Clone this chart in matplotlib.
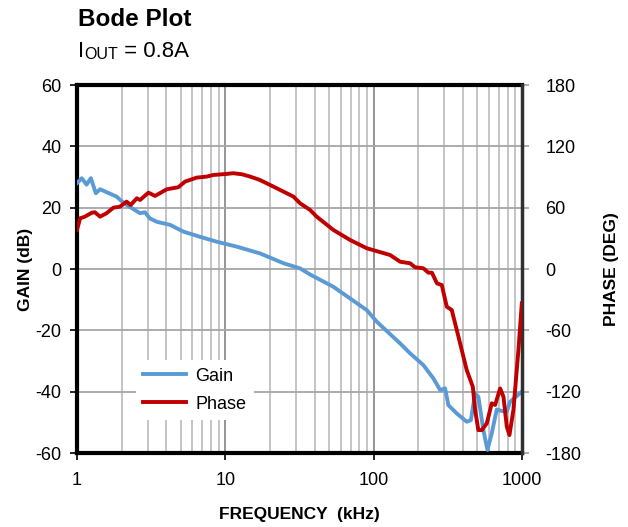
import matplotlib
matplotlib.use("Agg")
import matplotlib.pyplot as plt
from matplotlib.ticker import LogLocator, NullFormatter, FixedLocator

# ---- data ----
gain_freq = [1.0, 1.076, 1.16, 1.24, 1.34, 1.43, 1.85, 1.98, 2.16, 2.66, 2.87, 3.10, 3.45,
             4.24, 5.21, 6.75, 8.75, 11.9, 17.1, 24.6, 31.9, 37.3, 53.5, 89.8, 105, 151,
             176, 216, 253, 281, 303, 319, 363, 424, 452, 483, 508, 549, 585, 625, 676,
             731, 790, 831, 997]
gain_db = [28, 29.6, 27.5, 29.6, 24.7, 26, 23.6, 22.3, 20.9, 18.2, 18.5, 16.5, 15.4,
           14.4, 12.2, 10.5, 8.9, 7.3, 5.1, 1.9, 0.2, -1.8, -5.8, -13.4, -17.2, -24.3,
           -27.5, -31.3, -35.7, -39.5, -38.9, -44.4, -47.1, -49.8, -49.3, -40.6, -41.7,
           -52.5, -59, -53.6, -45.8, -46.3, -46.5, -43.3, -40]

phase_freq = [1.0, 1.05, 1.13, 1.26, 1.32, 1.43, 1.58, 1.76, 1.95, 2.16, 2.30, 2.53, 2.66,
              3.03, 3.36, 4.03, 4.82, 5.35, 6.41, 7.49, 8.30, 10.2, 11.3, 12.9, 14.7, 17.1,
              22.2, 28.8, 31.9, 37.3, 41.3, 53.5, 69.3, 89.8, 129, 151, 176, 190, 216, 234,
              247, 267, 288, 311, 336, 373, 424, 466, 483, 508, 536, 579, 625, 659, 712,
              750, 790, 823, 875, 946, 997]
phase_deg = [38.2, 49.6, 51.2, 55.1, 55.5, 51.2, 54.5, 60, 61, 65.9, 62.6, 69.2, 67.5,
             74.7, 71.5, 78, 80, 85.5, 89.4, 90.4, 92, 93, 93.7, 92.7, 90.4, 87.1,
             79, 70.8, 64.3, 57.7, 51.2, 38.2, 28.4, 20.3, 13.7, 7.1, 5.6, 1.7, 0.7, -3.6,
             -3.6, -14, -15.7, -36.9, -40.1, -66.3, -98.9, -115.2, -138, -157.6, -157.6,
             -151, -131.4, -133, -116.8, -125, -154.3, -162.5, -138, -79.3, -33.6]

gain_ticks = [-60, -40, -20, 0, 20, 40, 60]
phase_ticks = [-180, -120, -60, 0, 60, 120, 180]
x_ticks = [1, 10, 100, 1000]
x_tick_labels = ["1", "10", "100", "1000"]

# ---- figure ----
plt.rcParams['font.family'] = ['Liberation Sans', 'DejaVu Sans']
plt.rcParams['axes.unicode_minus'] = False
fig = plt.figure(figsize=(6.28, 5.27), dpi=100)
ax = fig.add_axes([77/628, 1-453/527, (522-77)/628, (453-85)/527])
ax2 = ax.twinx()

l1, = ax.plot(gain_freq, gain_db, color='#5B9BD5', lw=2.8, label='Gain', zorder=3)
l2, = ax2.plot(phase_freq, phase_deg, color='#C00000', lw=2.8, label='Phase', zorder=3)

ax.set_xscale('log')
ax.set_xlim(1, 1000)
ax.set_ylim(-60, 60)
ax2.set_ylim(-180, 180)
ax.set_yticks(gain_ticks)
ax2.set_yticks(phase_ticks)
ax.xaxis.set_major_locator(FixedLocator(x_ticks))
ax.set_xticklabels(x_tick_labels)
ax.xaxis.set_minor_locator(LogLocator(base=10, subs=range(2, 10)))
ax.xaxis.set_minor_formatter(NullFormatter())

ax.grid(True, which='major', axis='x', color='#8C8C8C', lw=1.3)
ax.grid(True, which='minor', axis='x', color='#BFBFBF', lw=1.3)
ax.grid(True, which='major', axis='y', color='#A6A6A6', lw=1.3)
ax.set_axisbelow(True)

ax.tick_params(axis='y', which='major', direction='out', length=5, width=1.2,
               labelsize=13, pad=6, color='black')
ax.tick_params(axis='x', which='major', direction='out', length=5, width=1.2,
               labelsize=13, pad=9, color='black')
ax.tick_params(axis='x', which='minor', length=0)
ax2.tick_params(axis='y', direction='out', length=5, width=1.2, labelsize=13,
                pad=12, color='#A0A0A0')

for s in ['left', 'bottom', 'top']:
    ax.spines[s].set_linewidth(3)
    ax.spines[s].set_color('black')
ax.spines['right'].set_visible(False)
for s in ['left', 'bottom', 'top']:
    ax2.spines[s].set_visible(False)
ax2.spines['right'].set_linewidth(2.5)
ax2.spines['right'].set_color('#303030')

lab_font = dict(family=['Liberation Sans Narrow', 'Liberation Sans'], fontweight='bold', fontsize=12.5)
ax.set_xlabel('FREQUENCY  (kHz)', labelpad=13, **lab_font)
ax.set_ylabel('GAIN (dB)', labelpad=2, **lab_font)
ax2.set_ylabel('PHASE (DEG)', labelpad=16, rotation=90, **lab_font)

leg = ax2.legend(handles=[l1, l2], loc='upper left', bbox_to_anchor=(0.112, 0.276),
                 frameon=True, fontsize=13, handlelength=2.4, borderpad=0.4,
                 labelspacing=0.6, handletextpad=0.5, fancybox=False)
leg.get_frame().set_facecolor('white')
leg.get_frame().set_edgecolor('none')
leg.get_frame().set_alpha(1)

fig.text(78/628, 1-19/527, 'Bode Plot', fontsize=17.5, fontweight='bold', va='center', ha='left')
t1 = fig.text(78/628, 1-57/527, 'I', fontsize=16, va='baseline', ha='left')
t2 = ax.annotate('OUT', xy=(1.0, 0.0), xycoords=t1, xytext=(0, 0), textcoords='offset points',
                 fontsize=11.5, va='bottom', ha='left', annotation_clip=False)
ax.annotate(' = 0.8A', xy=(1.0, 0.0), xycoords=t2, xytext=(0, 0), textcoords='offset points',
            fontsize=16, va='bottom', ha='left', annotation_clip=False)

fig.savefig('out.png', dpi=100)
